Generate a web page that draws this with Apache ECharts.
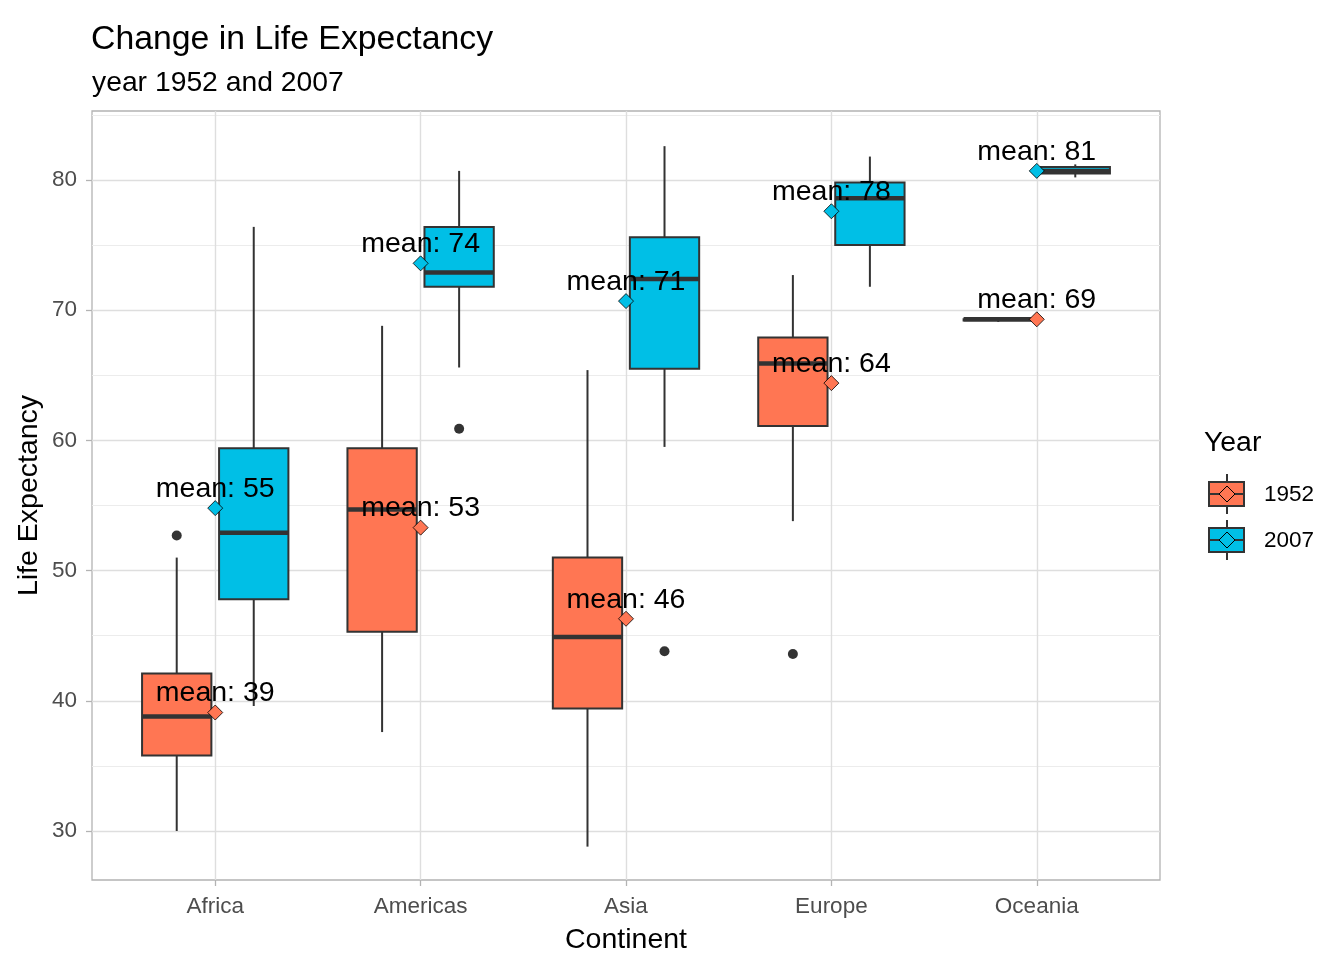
<!DOCTYPE html>
<html>
<head>
<meta charset="utf-8">
<script src="https://cdn.jsdelivr.net/npm/echarts@6/dist/echarts.min.js"></script>
<style>
  html, body { margin: 0; padding: 0; background: #ffffff; }
  #chart { width: 1332px; height: 966px; }
</style>
</head>
<body>
<div id="chart"></div>
<script>
const continents = ["Africa", "Americas", "Asia", "Europe", "Oceania"];
const years = ["1952", "2007"];
// [lower whisker, Q1, median, Q3, upper whisker]
const box1952 = [
  [30.0, 35.8, 38.8, 42.1, 51.0],
  [37.6, 45.3, 54.7, 59.4, 68.8],
  [28.8, 39.4, 44.9, 51.0, 65.4],
  [53.8, 61.1, 65.9, 67.9, 72.7],
  [69.1, 69.2, 69.3, 69.3, 69.4],
];
const box2007 = [
  [39.6, 47.8, 52.9, 59.4, 76.4],
  [65.6, 71.8, 72.9, 76.4, 80.7],
  [59.5, 65.5, 72.4, 75.6, 82.6],
  [71.8, 75.0, 78.6, 79.8, 81.8],
  [80.2, 80.5, 80.7, 81.0, 81.2],
];
// outliers: [continent, value]
const outliers1952 = [["Africa", 52.7], ["Europe", 43.6]];
const outliers2007 = [["Americas", 60.9], ["Asia", 43.8]];
const means1952 = [39.1, 53.3, 46.3, 64.4, 69.3];
const means2007 = [54.8, 73.6, 70.7, 77.6, 80.7];
const yTicks = [30, 40, 50, 60, 70, 80];
const yMinor = [35, 45, 55, 65, 75, 85];

const colors = { "1952": "#FF7653", "2007": "#00BFE6" };
const font = "'Liberation Sans', Arial, sans-serif";
const dodge = 0.1875;
const boxWidth = 0.3375;
const catIndex = (name) => continents.indexOf(name) + 1;

// box + whiskers drawn with the axis scales
const renderBox = (off, color) => (params, api) => {
  const x = api.value(0) + off;
  const lo = api.coord([x, api.value(1)]);
  const q1 = api.coord([x, api.value(2)]);
  const md = api.coord([x, api.value(3)]);
  const q3 = api.coord([x, api.value(4)]);
  const hi = api.coord([x, api.value(5)]);
  const w = api.size([boxWidth, 0])[0];
  const stroke = "#333333";
  return {
    type: "group",
    children: [
      { type: "line", shape: { x1: lo[0], y1: lo[1], x2: q1[0], y2: q1[1] }, style: { stroke, lineWidth: 2 } },
      { type: "line", shape: { x1: q3[0], y1: q3[1], x2: hi[0], y2: hi[1] }, style: { stroke, lineWidth: 2 } },
      {
        type: "rect",
        shape: { x: q3[0] - w / 2, y: q3[1], width: w, height: q1[1] - q3[1] },
        style: { fill: color, stroke, lineWidth: 2 },
      },
      { type: "line", shape: { x1: md[0] - w / 2, y1: md[1], x2: md[0] + w / 2, y2: md[1] }, style: { stroke, lineWidth: 4.5 } },
    ],
  };
};

const boxSeries = (data, off, year) => ({
  name: year,
  type: "custom",
  renderItem: renderBox(off, colors[year]),
  encode: { x: 0, y: [1, 2, 3, 4, 5] },
  data: data.map((b, i) => [i + 1, ...b]),
  z: 3,
});

const outlierSeries = (data, off) => ({
  type: "scatter",
  symbol: "circle",
  symbolSize: 10,
  itemStyle: { color: "#333333", opacity: 1 },
  data: data.map((d) => [catIndex(d[0]) + off, d[1]]),
  z: 4,
  silent: true,
});

const meanSeries = (data, year) => ({
  type: "scatter",
  symbol: "diamond",
  symbolSize: 15,
  itemStyle: { color: colors[year], borderColor: "#000000", borderWidth: 0.8, opacity: 1 },
  data: data.map((m, i) => [i + 1, m]),
  label: {
    show: true,
    position: "inside",
    offset: [0, -19],
    formatter: (p) => "mean: " + Math.round(p.value[1]),
    fontFamily: font,
    fontSize: 28.5,
    color: "#000000",
    textBorderWidth: 0,
  },
  z: 5,
});

const chart = echarts.init(document.getElementById("chart"), null, { renderer: "canvas" });

const legendKey = (y, year) => [
  { type: "line", shape: { x1: 1227, y1: y - 20, x2: 1227, y2: y + 20 }, style: { stroke: "#333333", lineWidth: 2 } },
  { type: "rect", shape: { x: 1209, y: y - 12, width: 35, height: 24 }, style: { fill: colors[year], stroke: "#333333", lineWidth: 2 } },
  { type: "line", shape: { x1: 1209, y1: y, x2: 1244, y2: y }, style: { stroke: "#333333", lineWidth: 2 } },
  {
    type: "polygon",
    shape: { points: [[1227, y - 8], [1235, y], [1227, y + 8], [1219, y]] },
    style: { fill: colors[year], stroke: "#000000", lineWidth: 1 },
  },
  {
    type: "text",
    style: { x: 1264, y: y + 1, text: year, fontFamily: font, fontSize: 22.5, fill: "#000000", textVerticalAlign: "middle" },
  },
];

const option = {
  backgroundColor: "#ffffff",
  animation: false,
  title: [
    {
      text: "Change in Life Expectancy",
      left: 91,
      top: 23,
      padding: 0,
      textStyle: { fontFamily: font, fontSize: 33.8, fontWeight: "normal", color: "#000000" },
    },
    {
      text: "year 1952 and 2007",
      left: 92,
      top: 69,
      padding: 0,
      textStyle: { fontFamily: font, fontSize: 28.3, fontWeight: "normal", color: "#000000" },
    },
  ],
  grid: { left: 92, top: 111, right: 172, bottom: 86, show: true, borderColor: "#b3b3b3", borderWidth: 1.3, backgroundColor: "transparent" },
  xAxis: {
    type: "value",
    min: 0.4,
    max: 5.6,
    name: "Continent",
    nameLocation: "middle",
    nameGap: 46,
    nameTextStyle: { fontFamily: font, fontSize: 28.5, color: "#000000" },
    axisLine: { show: false },
    axisTick: { show: true, customValues: [1, 2, 3, 4, 5], length: 6, lineStyle: { color: "#b3b3b3", width: 1.3 } },
    axisLabel: {
      customValues: [1, 2, 3, 4, 5],
      formatter: (v) => continents[Math.round(v) - 1] || "",
      fontFamily: font,
      fontSize: 22.5,
      color: "#4d4d4d",
      margin: 15,
    },
    splitLine: { show: false },
  },
  yAxis: {
    type: "value",
    min: 26.237,
    max: 85.3,
    name: "Life Expectancy",
    nameLocation: "middle",
    nameGap: 48,
    nameMoveOverlap: false,
    nameRotate: 90,
    nameTextStyle: { fontFamily: font, fontSize: 28.5, color: "#000000" },
    axisLine: { show: false },
    axisTick: { show: true, customValues: yTicks, length: 6, lineStyle: { color: "#b3b3b3", width: 1.3 } },
    axisLabel: {
      customValues: yTicks,
      fontFamily: font,
      fontSize: 22.5,
      color: "#4d4d4d",
      margin: 15,
    },
    splitLine: { show: false },
  },
  series: [
    {
      // panel grid lines
      type: "line",
      data: [],
      z: 1,
      silent: true,
      markLine: {
        silent: true,
        z: 1,
        symbol: "none",
        label: { show: false },
        animation: false,
        data: [
          ...yMinor.map((v) => ({ yAxis: v, lineStyle: { color: "#ececec", width: 1, type: "solid" } })),
          ...yTicks.map((v) => ({ yAxis: v, lineStyle: { color: "#dedede", width: 1.4, type: "solid" } })),
          ...continents.map((c, i) => ({ xAxis: i + 1, lineStyle: { color: "#dedede", width: 1.4, type: "solid" } })),
        ],
      },
    },
    boxSeries(box1952, -dodge, years[0]),
    boxSeries(box2007, dodge, years[1]),
    outlierSeries(outliers1952, -dodge),
    outlierSeries(outliers2007, dodge),
    meanSeries(means1952, years[0]),
    meanSeries(means2007, years[1]),
  ],
  graphic: [
    {
      type: "text",
      style: { x: 1204, y: 443, text: "Year", fontFamily: font, fontSize: 28.4, fill: "#000000", textVerticalAlign: "middle" },
    },
    ...legendKey(494, years[0]),
    ...legendKey(540, years[1]),
  ],
};

chart.setOption(option);
</script>
</body>
</html>
